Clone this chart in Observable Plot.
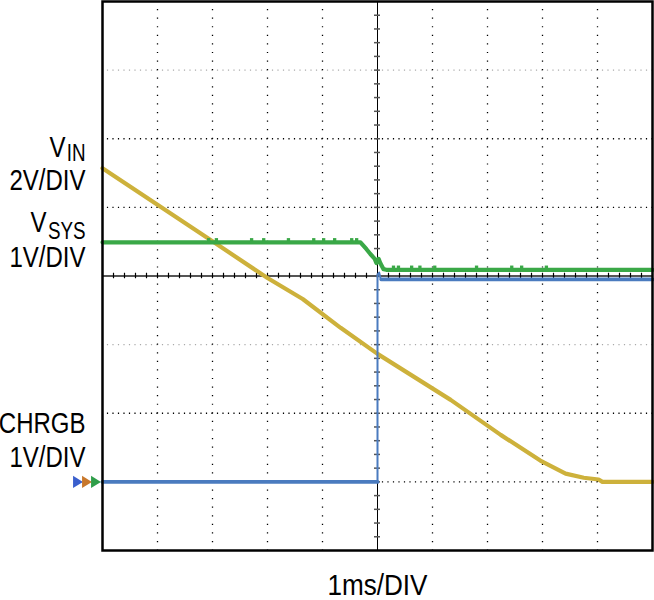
<!DOCTYPE html>
<html>
<head>
<meta charset="utf-8">
<script src="https://cdn.jsdelivr.net/npm/d3@7"></script>
<script src="https://cdn.jsdelivr.net/npm/@observablehq/plot@0.6"></script>
<style>
  body { margin: 0; background: white; }
</style>
</head>
<body>
<div id="chart"></div>
<script>
// time in ms (1ms/DIV, 10 divisions), voltages in volts
const vinT = [0, 2.02, 3.0, 3.64, 4.33, 5.0, 6.33, 7.24, 7.96, 8.42, 8.75, 9.02, 9.09, 10]
const vinV = [9.14, 6.99, 5.94, 5.33, 4.49, 3.73, 2.39, 1.37, 0.62, 0.24, 0.12, 0.07, 0, 0]

const vsysT = [0, 4.69, 4.8, 4.87, 4.95, 4.98, 5.02, 5.05, 5.11, 5.16, 10]
const vsysV = [3.49, 3.49, 3.39, 3.32, 3.25, 3.19, 3.25, 3.19, 3.1, 3.09, 3.09]
// little noise blips riding on VSYS
const vsysBlipHiT = [1.91, 2.05, 2.69, 2.91, 3.36, 3.82, 4.0, 4.2, 4.51, 4.6]
const vsysBlipLoT = [5.27, 5.36, 5.6, 5.75, 6.02, 6.78, 7.42, 7.6, 8.05]

const chrgbLowT = [0, 5.0]
const chrgbLowV = [0, 0]
const chrgbEdgeT = [5.0, 5.0, 5.03, 5.06]
const chrgbEdgeV = [0, 3.02, 3.05, 2.95]
const chrgbHighT = [5.07, 10]
const chrgbHighV = [2.95, 2.95]

// scope setup: V/DIV per channel, ground marker at 1 division
const voltsPerDiv = {VIN: 2, VSYS: 1, CHRGB: 1}
const groundDiv = 1

const toDiv = (ch, ts, vs) => ts.map((t, i) => ({t, div: groundDiv + vs[i] / voltsPerDiv[ch]}))

const vin = toDiv('VIN', vinT, vinV)
const vsys = toDiv('VSYS', vsysT, vsysV)
const chrgbLow = toDiv('CHRGB', chrgbLowT, chrgbLowV)
const chrgbEdge = toDiv('CHRGB', chrgbEdgeT, chrgbEdgeV)
const chrgbHigh = toDiv('CHRGB', chrgbHighT, chrgbHighV)

// graticule
const gridRowsDark = [1, 2, 5, 6]
const gridRowsLight = [3, 7]
const gridCols = [1, 2, 3, 4, 6, 7, 8, 9]
const minorX = d3.range(0.2, 10, 0.2)
const minorY = d3.range(0.2, 8, 0.2)

// left labels (y in divisions)
const labelText = ['2V/DIV', '1V/DIV', 'CHRGB', '1V/DIV']
const labelDiv = [5.246, 4.124, 1.705, 1.224]
const subLabels = ['IN', 'SYS']
const subLabelDiv = [5.67, 4.545]
const mainLabelDiv = [5.727, 4.634]

const YELLOW = '#cdb13b'
const GREEN = '#3aa847'
const BLUE = '#4a7bbf'
const FONT = '"Liberation Sans", Arial, sans-serif'

const triangle = {
  draw(context, size) {
    const r = Math.sqrt(size / Math.PI)
    context.moveTo(-0.8 * r, -r)
    context.lineTo(0.8 * r, 0)
    context.lineTo(-0.8 * r, r)
    context.closePath()
  }
}

const chart = Plot.plot({
  width: 654,
  height: 600,
  marginLeft: 102,
  marginRight: 2,
  marginTop: 1,
  marginBottom: 50,
  x: {domain: [0, 10], axis: null},
  y: {domain: [0, 8], axis: null},
  style: {background: 'white', fontFamily: FONT, overflow: 'visible'},
  marks: [
    // dotted graticule
    Plot.ruleY(gridRowsDark, {stroke: '#000', strokeWidth: 1.3, strokeDasharray: '1.2,4.3', strokeDashoffset: 0.6}),
    Plot.ruleY(gridRowsLight, {stroke: '#aaa', strokeWidth: 1.3, strokeDasharray: '1.2,4.3', strokeDashoffset: 0.6}),
    Plot.ruleX(gridCols, {stroke: '#000', strokeWidth: 1.3, strokeDasharray: '1.2,7.38', strokeDashoffset: 0.6}),
    // center axes with minor ticks
    Plot.ruleY([4], {stroke: '#555', strokeWidth: 2}),
    Plot.ruleX([5], {stroke: '#000', strokeWidth: 1}),
    Plot.ruleX(minorX, {y1: 4 - 0.04, y2: 4 + 0.04, stroke: '#000', strokeWidth: 1.2}),
    Plot.ruleY(minorY, {x1: 5 - 0.055, x2: 5 + 0.055, stroke: '#555', strokeWidth: 1.5}),
    // traces
    Plot.line(vin, {x: 't', y: 'div', stroke: YELLOW, strokeWidth: 4.2}),
    Plot.line(vsys, {x: 't', y: 'div', stroke: GREEN, strokeWidth: 4.2}),
    Plot.rect(vsysBlipHiT, {x1: d => d, x2: d => d + 0.06, y1: 1 + 3.49, y2: 1 + 3.49 + 0.055, fill: GREEN}),
    Plot.rect(vsysBlipLoT, {x1: d => d, x2: d => d + 0.06, y1: 1 + 3.09, y2: 1 + 3.09 + 0.055, fill: GREEN}),
    Plot.line(chrgbLow, {x: 't', y: 'div', stroke: BLUE, strokeWidth: 3.8}),
    Plot.line(chrgbEdge, {x: 't', y: 'div', stroke: BLUE, strokeWidth: 2}),
    Plot.line(chrgbHigh, {x: 't', y: 'div', stroke: BLUE, strokeWidth: 3.8}),
    // frame
    Plot.frame({stroke: '#000', strokeWidth: 2.5}),
    // ground markers
    Plot.dot([groundDiv], {x: 0, y: d => d, dx: -24.5, r: 6.2, symbol: triangle, fill: '#3a5fcd', stroke: 'none'}),
    Plot.dot([groundDiv], {x: 0, y: d => d, dx: -15.5, r: 6.2, symbol: triangle, fill: '#c8782c', stroke: 'none'}),
    Plot.dot([groundDiv], {x: 0, y: d => d, dx: -6.5, r: 6.2, symbol: triangle, fill: '#2f9e4a', stroke: 'none'}),
    // labels
    Plot.text(labelText, {x: 0, y: (d, i) => labelDiv[i], text: d => d, dx: -17, textAnchor: 'end', lineAnchor: 'bottom', fontSize: 30, fill: '#000'}),
    Plot.text(['V'], {x: 0, y: mainLabelDiv[0], text: d => d, dx: -37, textAnchor: 'end', lineAnchor: 'bottom', fontSize: 30, fill: '#000'}),
    Plot.text(['V'], {x: 0, y: mainLabelDiv[1], text: d => d, dx: -56, textAnchor: 'end', lineAnchor: 'bottom', fontSize: 30, fill: '#000'}),
    Plot.text(subLabels, {x: 0, y: (d, i) => subLabelDiv[i], text: d => d, dx: -17, textAnchor: 'end', lineAnchor: 'bottom', fontSize: 23.5, fill: '#000'}),
    Plot.text(['1ms/DIV'], {x: 5, y: 0, text: d => d, dy: 44, textAnchor: 'middle', lineAnchor: 'bottom', fontSize: 30, fill: '#000'}),
  ],
})

// condensed lettering like the scope-shot captions: squeeze each label horizontally around its anchor
d3.select(chart).selectAll('text').each(function () {
  const t = this.getAttribute('transform') || ''
  const squeeze = this.textContent === '1ms/DIV' ? 0.87 : 0.8
  this.setAttribute('transform', `${t} scale(${squeeze},1)`)
})

d3.select('#chart').append(() => chart)
</script>
</body>
</html>
